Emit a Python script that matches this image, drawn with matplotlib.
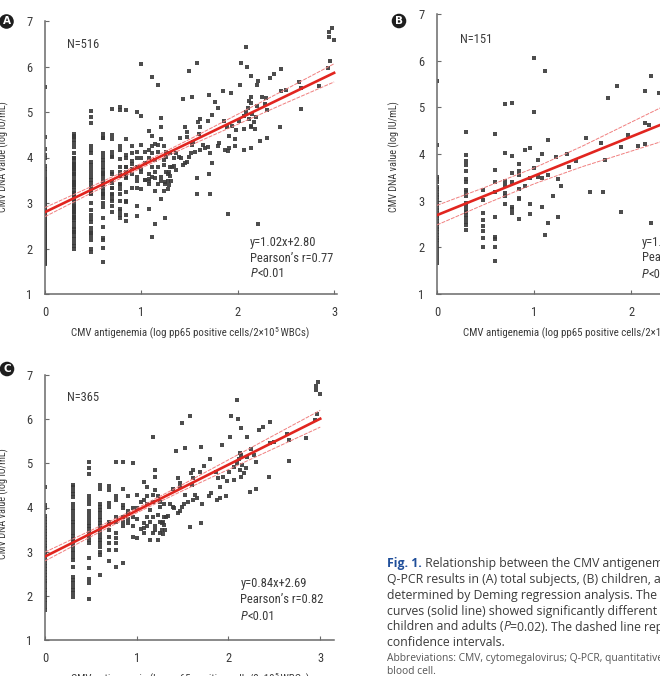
import matplotlib
matplotlib.use("Agg")
import matplotlib.pyplot as plt
from matplotlib import font_manager as fm

# ---- data ----
# panel B (children), x = log pp65 positive cells, y = log IU/mL
b_x = ([0.0] * 32 + [0.301] * 19 + [0.477] * 8 + [0.602] * 9 + [0.699] * 7
       + [0.778] * 7 + [0.845] * 7 + [0.903] * 2 + [0.954] * 4 + [1.0] * 3
       + [1.04, 1.04, 1.08, 1.08, 1.08, 1.11, 1.11, 1.14, 1.14, 1.14, 1.20,
          1.23, 1.25, 1.25, 1.28, 1.34, 1.36, 1.43, 1.54, 1.58, 1.69, 1.71,
          1.73, 1.76, 1.85, 1.90, 1.90, 1.97, 2.07, 2.14, 2.14, 2.18, 2.14,
          2.21, 2.21, 2.29])
b_y = [5.56, 4.19, 3.51, 3.46, 3.41, 3.30, 3.25, 3.19, 3.12, 3.07, 3.01, 2.96,
       2.91, 2.84, 2.79, 2.73, 2.67, 2.62, 2.57, 2.51, 2.44, 2.39, 2.32, 2.26,
       2.21, 2.16, 2.09, 2.01, 1.93, 1.84, 1.74, 1.66,
       4.47, 3.98, 3.85, 3.76, 3.64, 3.47, 3.40, 3.23, 3.18, 3.09, 2.94, 2.89,
       2.81, 2.76, 2.69, 2.62, 2.55, 2.48, 2.37,
       3.23, 3.01, 2.73, 2.59, 2.46, 2.34, 2.19, 2.00,
       4.42, 3.66, 3.41, 3.19, 2.66, 2.23, 2.18, 2.01, 1.71,
       5.07, 4.03, 3.43, 3.34, 3.17, 3.09, 2.93,
       5.10, 3.96, 3.59, 3.39, 2.87, 2.83, 2.73,
       3.79, 3.64, 3.55, 3.24, 3.05, 3.03, 2.60,
       4.09, 3.32,
       4.12, 3.48, 2.93, 2.71,
       6.05, 4.91, 3.69,
       3.87, 3.51, 4.00, 3.48, 2.87, 5.78, 2.26, 4.29, 3.54, 2.53, 3.09,
       3.94, 3.46, 2.66, 3.31, 3.99, 3.73, 3.84, 4.35, 3.19, 4.24, 3.19,
       3.87, 5.21, 5.46, 4.14, 2.75, 4.41, 4.17, 5.34, 4.67, 4.62, 4.21,
       5.68, 2.53, 5.30]

# panel C (adults)
c_x = ([0.0] * 35 + [0.301] * 30 + [0.477] * 21 + [0.602] * 19 + [0.699] * 11
       + [0.778] * 10 + [0.845] * 8 + [0.903] * 5 + [0.954] * 5 + [1.0] * 4
       + [1.041] * 2 + [1.079] * 5 + [1.114] * 5 + [1.146] * 3 + [1.176] * 5
       + [1.204] * 5 + [1.23] * 3 + [1.255] * 3 + [1.279] * 2 + [1.301] * 3
       + [1.25, 1.29, 1.29, 1.31, 1.32, 1.34, 1.36, 1.39, 1.41, 1.40, 1.43,
          1.45, 1.45, 1.47, 1.47, 1.47, 1.49, 1.49, 1.52, 1.53, 1.53, 1.56,
          1.58, 1.58, 1.59, 1.60, 1.61, 1.61, 1.61, 1.64, 1.66, 1.69, 1.70,
          1.70, 1.71, 1.73, 1.79, 1.80, 1.81, 1.86, 1.87, 1.89, 1.91, 1.91,
          1.93, 1.94, 1.97, 1.98, 2.01, 2.02, 2.03, 2.06, 2.06, 2.09, 2.09,
          2.10, 2.11, 2.12, 2.12, 2.14, 2.14, 2.14, 2.15, 2.17, 2.19, 2.20,
          2.20, 2.23, 2.25, 2.28, 2.30, 2.30, 2.33, 2.38, 2.44, 2.45, 2.45,
          2.50, 2.64, 2.66, 2.66, 2.84, 2.94, 2.95, 2.95, 2.96, 2.98, 3.0])
c_y = [4.46, 4.06, 4.00, 3.81, 3.75, 3.68, 3.60, 3.53, 3.47, 3.40, 3.34, 3.26,
       3.20, 3.13, 3.08, 3.00, 2.94, 2.89, 2.81, 2.75, 2.68, 2.61, 2.55, 2.48,
       2.41, 2.34, 2.28, 2.21, 2.13, 2.06, 1.98, 1.91, 1.83, 1.75, 1.68,
       4.52, 4.46, 4.38, 4.31, 4.23, 4.09, 3.98, 3.91, 3.83, 3.75, 3.68, 3.60,
       3.51, 3.43, 3.36, 3.28, 3.21, 3.13, 3.04, 2.96, 2.89, 2.81, 2.66, 2.43,
       2.36, 2.28, 2.21, 2.13, 2.06, 1.98,
       5.02, 4.89, 4.75, 4.25, 4.17, 4.09, 3.91, 3.83, 3.75, 3.66, 3.58, 3.51,
       3.43, 3.36, 3.26, 3.19, 2.85, 2.64, 2.37, 2.28, 1.92,
       4.52, 4.43, 4.09, 4.02, 3.94, 3.87, 3.79, 3.72, 3.64, 3.57, 3.49, 3.42,
       3.34, 3.26, 3.19, 3.11, 3.00, 2.92, 2.47,
       4.49, 4.40, 4.11, 4.02, 3.68, 3.63, 3.49, 3.34, 3.19, 3.04, 2.80,
       5.04, 4.25, 4.17, 3.79, 3.68, 3.42, 3.30, 3.19, 3.04, 2.66,
       5.04, 4.41, 4.06, 3.98, 3.79, 3.68, 3.57, 2.74,
       4.25, 3.93, 3.85, 3.75, 3.64,
       5.00, 4.00, 3.79, 3.57, 3.34,
       4.28, 3.98, 3.75, 3.30,
       4.13, 3.51,
       4.58, 4.17, 3.64, 3.53, 3.42,
       4.47, 4.25, 4.09, 3.79, 3.57,
       3.94, 3.68, 3.26,
       5.60, 4.28, 4.13, 3.79, 3.42,
       4.86, 4.68, 4.40, 3.57, 3.49,
       4.25, 3.83, 3.26,
       4.02, 3.68, 4.13,
       3.49, 3.64,
       4.09, 3.79, 3.60,
       3.42, 3.40, 3.68, 3.49, 3.79, 3.81, 4.09, 4.02, 4.00, 4.43, 5.28,
       3.87, 4.66, 3.91, 4.55, 4.46, 5.91, 4.02, 4.09, 4.28, 5.34, 4.13,
       6.08, 3.55, 4.79, 4.51, 4.66, 4.17, 4.85, 4.28, 4.21, 4.81, 5.38,
       3.64, 4.09, 4.94, 4.25, 5.09, 4.32, 4.81, 4.17, 4.66, 4.21, 4.47,
       5.42, 4.70, 4.26, 4.61, 4.80, 5.60, 6.08, 4.92, 4.62, 6.43, 5.00,
       6.00, 5.09, 5.24, 4.85, 5.79, 5.19, 4.70, 4.96, 4.77, 4.89, 5.60,
       5.14, 4.36, 5.32, 5.18, 5.04, 4.43, 5.75, 5.83, 4.68, 5.94, 5.47,
       5.49, 5.66, 5.53, 5.06, 5.57, 5.97, 6.75, 6.65, 6.12, 6.85, 6.58]

# panel A is all subjects = children + adults
a_x = b_x + c_x
a_y = b_y + c_y

# regression lines as drawn, and half widths of the dashed bands
fit_slope = [1.02, 0.84, 1.04]
fit_icpt = [2.80, 2.69, 2.89]
ci_x = [0.0, 0.5, 1.0, 1.5, 2.0, 2.5, 3.0]
ci_half = [[0.10, 0.07, 0.05, 0.07, 0.11, 0.15, 0.20],
           [0.21, 0.18, 0.17, 0.22, 0.31, 0.40, 0.50],
           [0.10, 0.07, 0.05, 0.07, 0.11, 0.15, 0.19]]

n_labels = ["N=516", "N=151", "N=365"]
eq_labels = ["y=1.02x+2.80", "y=1.04x+2.89", "y=0.84x+2.69"]
r_labels = ["Pearson\u2019s r=0.77", "Pearson\u2019s r=0.78", "Pearson\u2019s r=0.82"]
p_label = "<0.01"
panel_ids = ["A", "B", "C"]

xlab_runs = [("CMV antigenemia (log pp65 positive cells/2\u00d710", 0), ("5", 1), (" WBCs)", 0)]
ylab = "CMV DNA value (log IU/mL)"

caption = [
    [("Fig. 1.", "fig"), (" Relationship between the CMV antigenemia assay and the", "")],
    [("Q-PCR results in (A) total subjects, (B) children, and (C) adults, as", "")],
    [("determined by Deming regression analysis. The regression", "")],
    [("curves (solid line) showed significantly different in slope between", "")],
    [("children and adults (", ""), ("P", "it"), ("=0.02). The dashed line represents 95%", "")],
    [("confidence intervals.", "")],
]
abbrev = ["Abbreviations: CMV, cytomegalovirus; Q-PCR, quantitative real-time PCR; WBC, white",
          "blood cell."]

# ---- pick a narrow sans for the chart text ----
pref = ['liberation sans narrow', 'arial narrow', 'roboto condensed', 'dejavu sans',
        'noto sans', 'open sans', 'lato', 'roboto']
cands = []
for f in fm.fontManager.ttflist:
    nm = f.name.lower()
    if any(w in nm for w in ('mono', 'serif', 'cjk', 'math', 'symbol')):
        continue
    narrow = ('narrow' in nm or 'condensed' in nm
              or f.stretch in ('condensed', 'semi-condensed'))
    if not narrow or f.style != 'normal' or f.weight not in (400, 'normal', 'regular', 'book'):
        continue
    rank = next((k for k, p in enumerate(pref) if nm.startswith(p)), len(pref))
    cands.append((rank, f.name, f.stretch))
if cands:
    cands.sort()
    chart_family, chart_stretch = cands[0][1], cands[0][2]
    fs = 9
else:
    chart_family, chart_stretch = 'Roboto', 'normal'
    fs = 8

plt.rcParams['font.family'] = [chart_family, 'DejaVu Sans']
plt.rcParams['font.stretch'] = chart_stretch

W, H = 660, 676
fig = plt.figure(figsize=(W / 100, H / 100), dpi=100)
renderer = fig.canvas.get_renderer()


def box(left, top, right, bottom):
    return [left / W, 1 - bottom / H, (right - left) / W, (bottom - top) / H]


def put_runs(x, y, runs, center=False, **base):
    # x, y in figure pixels measured from the top-left corner
    texts = []
    x0 = x
    for s, extra in runs:
        kw = dict(base)
        kw.update(extra)
        dy = kw.pop('dy', 0)
        t = fig.text(x / W, 1 - (y - dy) / H, s, ha='left', va='center', **kw)
        x += t.get_window_extent(renderer).width
        texts.append(t)
    if center:
        shift = (x - x0) / 2
        for t in texts:
            px, py = t.get_position()
            t.set_position((px - shift / W, py))
    return texts


ax_a = fig.add_axes(box(45, 21, 337, 294))
ax_b = fig.add_axes(box(437, 14, 731, 294))
ax_c = fig.add_axes(box(45, 375, 334, 640))
axes = [ax_a, ax_b, ax_c]
xs = [a_x, b_x, c_x]
ys = [a_y, b_y, c_y]
xmax = [3.03, 3.03, 3.15]
txt_pos = [(2.13, [2.14, 1.79, 1.44]), (2.11, [2.11, 1.78, 1.42]), (2.13, [2.28, 1.91, 1.54])]
n_pos = [(0.23, 6.49), (0.24, 6.46), (0.24, 6.49)]

grey = "#6a6a6a"
ink = "#3a3a3a"
for i, ax in enumerate(axes):
    ax.scatter(xs[i], ys[i], s=10, marker='s', color='#3a3a3a', linewidths=0, alpha=0.9, zorder=2)
    line = [fit_icpt[i] + fit_slope[i] * x for x in ci_x]
    up = [l + h for l, h in zip(line, ci_half[i])]
    lo = [l - h for l, h in zip(line, ci_half[i])]
    ax.plot(ci_x, up, color='#f07f7f', lw=0.7, ls=(0, (4, 1.2)), zorder=3)
    ax.plot(ci_x, lo, color='#f07f7f', lw=0.7, ls=(0, (4, 1.2)), zorder=3)
    ax.plot(ci_x, line, color='#e1251f', lw=1.9, zorder=4)
    ax.set_xlim(0, xmax[i])
    ax.set_ylim(1, 7)
    ax.set_xticks([0, 1, 2, 3])
    ax.set_yticks([1, 2, 3, 4, 5, 6, 7])
    for s in ['top', 'right']:
        ax.spines[s].set_visible(False)
    for s in ['left', 'bottom']:
        ax.spines[s].set_color(grey)
        ax.spines[s].set_linewidth(1.1)
    ax.tick_params(direction='in', length=3, width=0.8, color=grey, labelcolor=ink,
                   labelsize=fs, pad=9)
    ax.patch.set_alpha(0)
    ax.text(n_pos[i][0], n_pos[i][1], n_labels[i], fontsize=fs, color=ink, va='center')
    tx, tys = txt_pos[i]
    ax.text(tx, tys[0], eq_labels[i], fontsize=fs, color=ink, va='center')
    ax.text(tx, tys[1], r_labels[i], fontsize=fs, color=ink, va='center')
    px, py = ax.transData.transform((tx, tys[2]))
    put_runs(px, H - py, [("P", {'style': 'italic'}), (p_label, {})], fontsize=fs, color=ink)

# axis titles placed by pixel
for x0, yc in [(190, 333), (582, 333), (190, 679)]:
    runs = [(s, {'fontsize': 5.6, 'dy': 3} if sup else {}) for s, sup in xlab_runs]
    put_runs(x0, yc, runs, center=True, fontsize=7.8, color=ink)
for x0, yc in [(3, 157), (394, 157), (3, 504)]:
    fig.text(x0 / W, 1 - yc / H, ylab, fontsize=7.3, color=ink, ha='center', va='center',
             rotation=90)

# panel badges
for pid, (x0, y0) in zip(panel_ids, [(6.5, 21.5), (399, 21), (7, 369)]):
    fig.text(x0 / W, 1 - y0 / H, pid, fontsize=7.5, color='white', weight='bold', ha='center',
             va='center', family='DejaVu Sans', stretch='normal',
             bbox=dict(boxstyle='circle,pad=0.22', fc='#1e1e1e', ec='none'))

# caption
cap_font = ['Open Sans', 'DejaVu Sans']
kinds = {'fig': {'color': '#1f4e9a', 'weight': 'bold'}, 'it': {'style': 'italic'}, '': {}}
for k, runs in enumerate(caption):
    put_runs(387, 563 + 16 * k, [(s, kinds[kind]) for s, kind in runs],
             fontsize=8.8, color=ink, family=cap_font, stretch='normal')
for k, s in enumerate(abbrev):
    fig.text(387 / W, 1 - (658 + 14 * k) / H, s, fontsize=7.4, color='#555555', family=cap_font,
             stretch='normal', ha='left', va='center')

fig.savefig("out.png", dpi=100)
